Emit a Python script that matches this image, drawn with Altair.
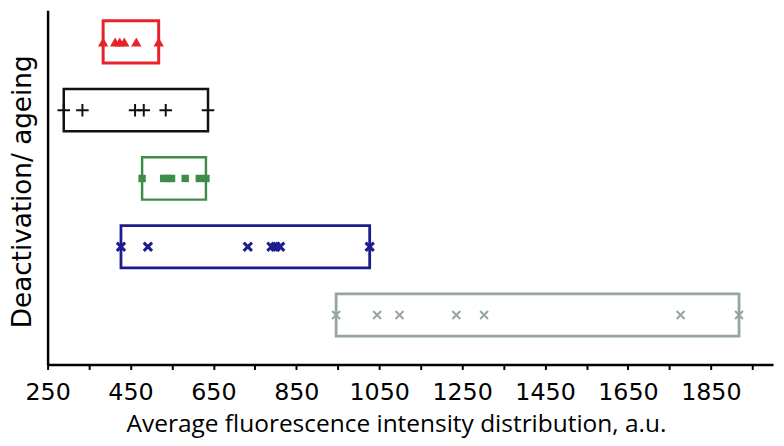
import altair as alt
import pandas as pd

# ---- data ----
groups = ["red", "black", "green", "blue", "grey"]
red_vals = [384, 413, 424, 435, 464, 518]
black_vals = [289, 334, 461, 482, 535, 637]
green_vals = [478, 530, 539, 549, 582, 616, 632]
blue_vals = [427, 492, 733, 790, 800, 811, 1027]
grey_vals = [946, 1045, 1099, 1236, 1303, 1777, 1918]
x_ticks = list(range(250, 2000, 100))
x_title = "Average fluorescence intensity distribution, a.u."
y_title = "Deactivation/ ageing"

series = {"red": red_vals, "black": black_vals, "green": green_vals,
          "blue": blue_vals, "grey": grey_vals}

# row position (top to bottom)
row_of = {g: len(groups) - i for i, g in enumerate(groups)}

styles = {
    "red":   dict(color="#E8222B", shape="triangle-up", filled=True, size=110, sw=0, box=3),
    "black": dict(color="#111111", shape="M-1,0L1,0M0,-1L0,1", filled=False, size=160, sw=2, box=2.5),
    "green": dict(color="#3E8C48", shape="square", filled=True, size=56, sw=0, box=2.5),
    "blue":  dict(color="#1C1C8E", shape="M-1,-1L1,1M-1,1L1,-1", filled=False, size=70, sw=3, box=2.8),
    "grey":  dict(color="#95A5A1", shape="M-1,-1L1,1M-1,1L1,-1", filled=False, size=64, sw=2, box=2.8),
}

rows = []
for g in groups:
    for v in series[g]:
        rows.append({"group": g, "value": v, "k": row_of[g]})
df = pd.DataFrame(rows)

half = 0.31
xscale = alt.Scale(domain=[250, 2000], nice=False, zero=False)
yscale = alt.Scale(domain=[0.275, 5.464], nice=False, zero=False)

xaxis = alt.Axis(
    values=x_ticks,
    labelExpr="(datum.value - 250) % 200 == 0 ? datum.value : ''",
    labelFlush=False, labelOverlap=False,
    tickSize=5, tickWidth=2, tickColor="black",
    domainColor="black", domainWidth=2.5, grid=False,
    labelFont="DejaVu Sans", labelFontSize=24, labelColor="black",
    labelBaseline="alphabetic", labelPadding=30,
    titleFont="Open Sans", titleFontSize=24.7,
    titleFontWeight="normal", titleColor="black",
    titleBaseline="alphabetic", titleAlign="center", titleX=352, titleY=68,
)
yaxis = alt.Axis(
    ticks=False, labels=False, grid=False,
    domainColor="black", domainWidth=2.5,
    titleFont="DejaVu Sans", titleFontSize=26.5,
    titleFontWeight="normal", titleColor="black",
    titleAngle=270, titleBaseline="alphabetic", titleAlign="center",
    titleX=-17, titleY=183,
)

base = alt.Chart(df)
layers = []
for i, g in enumerate(groups):
    st = styles[g]
    sub = base.transform_filter(alt.datum.group == g)
    box = sub.transform_aggregate(
        lo="min(value)", hi="max(value)", groupby=["group", "k"]
    ).transform_calculate(
        y0=f"datum.k - {half}", y1=f"datum.k + {half}"
    ).mark_rect(fill="white", fillOpacity=0, stroke=st["color"], strokeWidth=st["box"]).encode(
        x=alt.X("lo:Q", scale=xscale, axis=xaxis, title=x_title),
        x2="hi:Q",
        y=alt.Y("y0:Q", scale=yscale, axis=yaxis, title=y_title),
        y2="y1:Q",
    )
    mk = dict(shape=st["shape"], size=st["size"], filled=st["filled"], opacity=1)
    if st["filled"]:
        mk.update(fill=st["color"], strokeWidth=0)
    else:
        mk.update(stroke=st["color"], strokeWidth=st["sw"])
    pts = sub.mark_point(**mk).encode(
        x=alt.X("value:Q", scale=xscale, axis=xaxis, title=x_title),
        y=alt.Y("k:Q", scale=yscale, axis=yaxis, title=y_title),
    )
    layers += [box, pts]

chart = alt.layer(*layers).properties(
    width=733, height=358,
    padding={"left": 40, "top": 0, "right": 3, "bottom": 72},
    autosize=alt.AutoSizeParams(type="none"),
    background="white",
).configure_view(stroke=None)

chart.save("out.html", embed_options={"renderer": "svg", "actions": False})
